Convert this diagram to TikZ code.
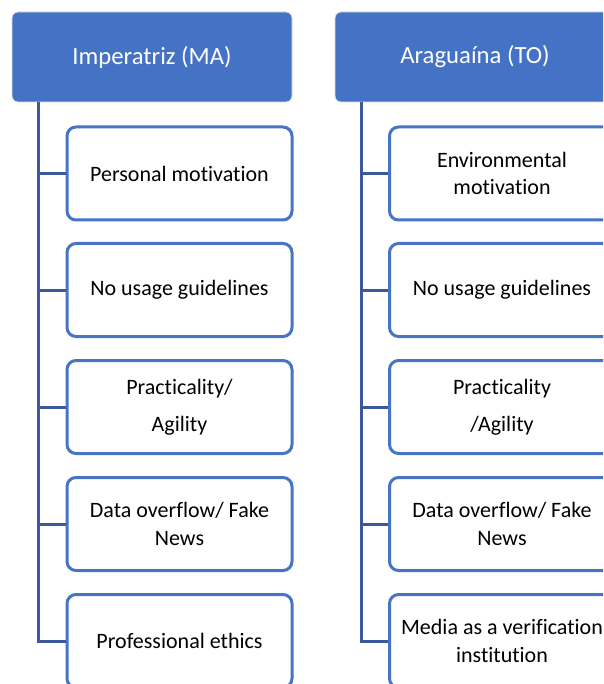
\documentclass[tikz,border=0pt]{standalone}
\usepackage{fontspec}
\setmainfont{Carlito}[Ligatures=NoCommon]
\usetikzlibrary{positioning}

\definecolor{hdrblue}{RGB}{68,114,196}
\definecolor{boxblue}{RGB}{72,116,196}
\definecolor{treeblue}{RGB}{59,89,152}

\begin{document}
\begin{tikzpicture}[
 x=1pt, y=-1pt,
 head/.style={draw=black!12, line width=0.8pt, fill=hdrblue, rounded corners=6pt,
   minimum width=280pt, minimum height=90pt, text=white,
   font=\fontsize{24.7}{28}\selectfont},
 item/.style={draw=boxblue, line width=3pt, fill=white, rounded corners=9pt,
   minimum width=225pt, minimum height=93pt, align=center,
   font=\fontsize{22}{27.5}\selectfont},
 tree/.style={draw=treeblue, line width=3pt}
]

\useasboundingbox (0,0) rectangle (603,684);
\clip (0,0) rectangle (603,684);

% Imperatriz
\node[head] (imp) at (152,57) {Imperatriz (MA)};
\node[item] (imp1) at (179.5,173.5) {Personal motivation};
\node[item] (imp2) at (179.5,290) {No usage guidelines};
\node[item] (imp3) at (179.5,407) {Practicality/\\[10pt] Agility};
\node[item] (imp4) at (179.5,524) {Data overflow/ Fake\\ News};
\node[item] (imp5) at (179.5,641) {Professional ethics};

% Araguaína
\node[head] (ara) at (475,57) {Araguaína (TO)};
\node[item] (ara1) at (502,173.5) {Environmental\\ motivation};
\node[item] (ara2) at (502,290) {No usage guidelines};
\node[item] (ara3) at (502,407) {Practicality\\[10pt] /Agility};
\node[item] (ara4) at (502,524) {Data overflow/ Fake\\ News};
\node[item] (ara5) at (502,641) {Media as a verification\\ institution};

% bus lines
\coordinate (impbus) at ([xshift=27pt]imp.south west);
\coordinate (arabus) at ([xshift=27pt]ara.south west);

\draw[tree] (impbus) |- (imp5.west);
\draw[tree] (impbus |- imp1.west) -- (imp1.west);
\draw[tree] (impbus |- imp2.west) -- (imp2.west);
\draw[tree] (impbus |- imp3.west) -- (imp3.west);
\draw[tree] (impbus |- imp4.west) -- (imp4.west);

\draw[tree] (arabus) |- (ara5.west);
\draw[tree] (arabus |- ara1.west) -- (ara1.west);
\draw[tree] (arabus |- ara2.west) -- (ara2.west);
\draw[tree] (arabus |- ara3.west) -- (ara3.west);
\draw[tree] (arabus |- ara4.west) -- (ara4.west);

\end{tikzpicture}
\end{document}
